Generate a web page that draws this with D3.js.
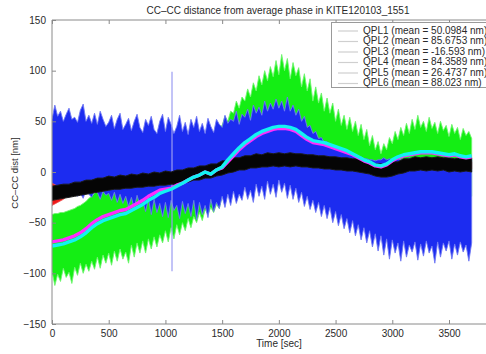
<!DOCTYPE html>
<html>
<head>
<meta charset="utf-8">
<script src="https://cdn.jsdelivr.net/npm/d3@7"></script>
<style>
  html, body { margin: 0; padding: 0; background: #fff; }
  svg { display: block; font-family: "Liberation Sans", Arial, Helvetica, sans-serif; }
</style>
</head>
<body>
<svg id="chart" width="486" height="354"></svg>
<script>
// Noise envelopes of QPL1/QPL2 are sampled every 25 s, the other traces every 50 s (0 ... 3700 s).
const fineStep = 25;
const coarseStep = 50;

const xTicks = [0, 500, 1000, 1500, 2000, 2500, 3000, 3500];
const yTicks = [-150, -100, -50, 0, 50, 100, 150];

const seriesNames = ["QPL1", "QPL2", "QPL3", "QPL4", "QPL5", "QPL6"];
const seriesMeans = ["50.0984", "85.6753", "-16.593", "84.3589", "26.4737", "88.023"];

// QPL1 (blue) envelope, one row per 100 s
const qpl1Hi = [
  52,66,55,60, 50,57,63,52, 54,49,61,67, 50,56,48,58, 47,60,52,45,
  49,56,43,52, 58,42,47,53, 41,50,57,44, 39,52,46,55, 42,38,50,57,
  40,54,47,38, 45,56,40,49, 37,52,44,55, 40,48,38,53, 45,39,52,47,
  44,56,48,52, 50,60,47,57, 54,62,51,66, 58,64,56,70, 60,68,62,72,
  63,70,60,74, 60,66,56,62, 50,55,44,46, 38,40,33,34, 29,30,27,27,
  24,25,22,22, 20,20,18,17, 15,15,13,13, 12,12,11,12, 12,14,12,13,
  12,14,13,12, 13,12,14,12, 12,13,12,14, 13,12,13,12, 12,13,12,13,
  12,13,12,12, 13,12,13,12, 12];
const qpl1Lo = [
  -20,-26,-22,-24, -21,-25,-20,-23, -19,-24,-21,-26, -18,-22,-25,-19, -20,-27,-19,-23,
  -21,-28,-20,-30, -22,-31,-24,-34, -25,-36,-23,-33, -28,-39,-26,-42, -27,-40,-31,-44,
  -30,-45,-28,-38, -33,-46,-29,-41, -31,-44,-28,-47, -30,-42,-33,-45, -27,-39,-30,-36,
  -24,-35,-22,-33, -19,-31,-22,-28, -15,-27,-18,-30, -12,-24,-14,-27, -9,-22,-12,-25,
  -8,-20,-11,-26, -13,-27,-16,-30, -20,-34,-24,-37, -28,-40,-30,-44, -33,-46,-35,-50,
  -39,-53,-42,-56, -46,-60,-48,-63, -52,-67,-55,-70, -58,-74,-61,-78, -63,-82,-66,-86,
  -67,-80,-70,-88, -68,-84,-72,-79, -69,-87,-71,-83, -68,-80,-73,-90, -69,-84,-70,-78,
  -68,-86,-71,-82, -69,-79,-72,-88, -70];
// single outlier sample in QPL1
const qpl1Glitch = { t: 1058, hi: 99, lo: -98 };

// QPL2 (green) envelope, one row per 100 s
const qpl2Hi = [
  -42,-41,-41,-40, -40,-39,-38,-37, -36,-34,-33,-31, -29,-26,-24,-21, -19,-18,-17,-16,
  -14,-13,-12,-11, -10,-10,-9,-8, -6,-5,-3,-2, 0,2,4,6, 7,9,11,12,
  13,14,15,17, 18,20,21,23, 24,26,27,29, 29,30,32,34, 32,36,40,44,
  46,55,50,60, 58,70,63,74, 70,82,74,88, 80,95,86,100, 90,104,94,110,
  96,116,100,112, 92,108,95,103, 84,97,80,92, 70,84,68,78, 60,73,58,68,
  50,62,46,56, 42,54,40,50, 36,47,32,42, 26,36,22,30, 18,28,22,34,
  28,40,32,44, 36,48,38,52, 42,56,44,50, 40,54,43,49, 38,50,41,46,
  35,47,38,44, 32,43,36,40, 33];
const qpl2Lo = [
  -98,-112,-101,-108, -95,-104,-99,-110, -94,-102,-90,-100, -91,-98,-88,-96, -84,-95,-82,-90,
  -80,-92,-78,-88, -76,-86,-79,-90, -72,-84,-70,-80, -68,-80,-66,-76, -64,-74,-62,-70,
  -58,-69,-55,-66, -52,-62,-50,-58, -46,-55,-44,-50, -40,-48,-37,-42, -35,-40,-32,-36,
  -24,-26,-20,-18, -14,-12,-8,-6, -4,-2,0,2, 2,4,4,5, 5,6,6,6,
  6,6,5,5, 4,3,2,0, -2,-4,-6,-8, -9,-10,-11,-12, -13,-14,-15,-16,
  -17,-18,-19,-20, -21,-22,-23,-24, -26,-27,-28,-30, -31,-32,-34,-35, -36,-35,-33,-31,
  -30,-29,-27,-26, -25,-24,-23,-23, -22,-22,-21,-21, -20,-20,-20,-21, -21,-22,-22,-23,
  -23,-22,-22,-23, -24,-25,-24,-24, -24];

// QPL3 (red) envelope, one row per 500 s
const qpl3Hi = [-11,-14,-15,-15,-13,-13,-12,-11,-10,-9,
  -8,-8,-7,-7,-6,-6,-5,-5,-4,-4,
  -3,-3,-2,-1,0,1,2,3,4,5,
  7,8,10,11,12,13,14,14,15,15,
  15,15,15,15,14,14,13,13,12,12,
  11,11,10,10,9,8,7,5,4,4,
  6,7,9,10,11,11,11,11,11,11,
  10,10,10,10,10];
const qpl3Lo = [-33,-30,-27,-22,-21,-20,-19,-18,-17,-16,
  -15,-15,-14,-14,-13,-13,-12,-12,-11,-11,
  -10,-10,-9,-8,-7,-6,-5,-4,-3,-2,
  0,1,3,4,5,6,7,7,8,8,
  8,8,8,8,7,7,6,6,5,5,
  4,4,3,3,2,1,0,-1,-2,-2,
  -1,0,2,3,4,4,4,4,4,4,
  3,3,3,3,3];

// QPL4 (cyan) smoothed trace, one row per 500 s
const qpl4 = [-73,-72,-71,-69,-67,-64,-60,-55,-51,-48,
  -46,-44,-42,-41,-38,-35,-32,-28,-25,-21,
  -19,-17,-14,-11,-8,-5,-3,0,-2,2,
  5,12,18,24,29,33,37,40,42,44,
  45,45,44,42,38,34,31,30,29,27,
  25,23,21,18,15,12,10,7,6,8,
  12,15,17,18,19,20,20,20,19,18,
  17,18,16,15,16];

// QPL5 (magenta) smoothed trace, one row per 500 s
const qpl5 = [-69,-68,-67,-65,-63,-60,-56,-51,-47,-44,
  -42,-40,-38,-37,-34,-31,-28,-24,-21,-18,
  -17,-16,-13,-11,-8,-5,-3,0,-2,2,
  4,10,16,22,27,31,35,38,40,42,
  43,43,42,40,36,32,29,28,27,25,
  23,21,19,17,14,11,9,6,5,7,
  11,14,16,17,18,19,19,19,18,17,
  16,17,15,14,15];

// QPL6 (black) envelope, one row per 500 s
const qpl6Hi = [-14,-13,-12,-12,-10,-10,-8,-8,-6,-6,
  -4,-5,-3,-4,-2,-3,-1,-2,0,-1,
  1,0,2,2,4,4,6,6,8,8,
  11,11,14,14,16,16,18,17,19,18,
  19,18,19,18,18,17,17,16,16,15,
  15,14,14,13,13,11,11,8,8,7,
  10,10,13,13,15,14,15,14,15,14,
  14,13,14,13,14];
const qpl6Lo = [-28,-27,-26,-25,-24,-23,-22,-21,-20,-19,
  -18,-17,-17,-16,-16,-15,-15,-14,-14,-13,
  -13,-12,-12,-10,-10,-8,-8,-6,-6,-4,
  -3,-1,0,2,2,4,4,5,5,6,
  5,6,5,6,5,5,4,4,3,3,
  2,2,1,1,0,-1,-2,-4,-5,-5,
  -4,-2,-1,1,1,2,1,2,1,2,
  0,1,0,1,0];

(function () {
const svg = d3.select("#chart");
const W = 486;
const plotLeft = 52, plotTop = 20, plotBottom = 324;
const pxPerSec = (449 - 52) / 3500;
const xMax = 3900;

const x = d3.scaleLinear().domain([0, xMax]).range([plotLeft, plotLeft + xMax * pxPerSec]);
const y = d3.scaleLinear().domain([-150, 150]).range([plotBottom, plotTop]);

const axisGrey = "#8a8a8a";
const textCol = "#2a2a2a";

svg.append("defs").append("clipPath").attr("id", "plotClip")
  .append("rect").attr("x", plotLeft).attr("y", plotTop)
  .attr("width", x(xMax) - plotLeft).attr("height", plotBottom - plotTop);

const plot = svg.append("g").attr("clip-path", "url(#plotClip)");

function band(hi, lo, step, fill, edge, edgeWidth) {
  const area = d3.area()
    .x((d, i) => x(i * step))
    .y0((d, i) => y(lo[i]))
    .y1((d, i) => y(hi[i]));
  plot.append("path").datum(hi).attr("d", area)
    .attr("fill", fill).attr("stroke", edge).attr("stroke-width", edgeWidth)
    .attr("stroke-linejoin", "miter");
}

function trace(vals, step, color, width) {
  const line = d3.line().x((d, i) => x(i * step)).y(d => y(d));
  plot.append("path").datum(vals).attr("d", line)
    .attr("fill", "none").attr("stroke", color).attr("stroke-width", width)
    .attr("stroke-linejoin", "round");
}

band(qpl2Hi, qpl2Lo, fineStep, "#14ee14", "#6ef56e", 0.9);
band(qpl1Hi, qpl1Lo, fineStep, "#1c2cf0", "#6f78f4", 0.9);
plot.append("line")
  .attr("x1", x(qpl1Glitch.t)).attr("x2", x(qpl1Glitch.t))
  .attr("y1", y(qpl1Glitch.hi)).attr("y2", y(qpl1Glitch.lo))
  .attr("stroke", "#9a9cf2").attr("stroke-width", 1.2);
band(qpl3Hi, qpl3Lo, coarseStep, "#f01a1a", "#f05050", 0.8);
band(qpl6Hi, qpl6Lo, coarseStep, "#050505", "#1a1a1a", 1);
trace(qpl5, coarseStep, "#ff2cff", 3.4);
trace(qpl4, coarseStep, "#12f2f2", 3.4);

// axes box (left, top, bottom; right side lies beyond the view)
const axes = svg.append("g");
axes.append("line").attr("x1", plotLeft).attr("x2", plotLeft).attr("y1", plotTop).attr("y2", plotBottom)
  .attr("stroke", axisGrey);
axes.append("line").attr("x1", plotLeft).attr("x2", W + 20).attr("y1", plotBottom).attr("y2", plotBottom)
  .attr("stroke", axisGrey);
axes.append("line").attr("x1", plotLeft).attr("x2", W + 20).attr("y1", plotTop).attr("y2", plotTop)
  .attr("stroke", axisGrey);

const xAxisB = d3.axisBottom(x).tickValues(xTicks).tickSize(-4).tickPadding(6)
  .tickFormat(d3.format("d"));
const gxb = svg.append("g").attr("transform", `translate(0,${plotBottom})`).call(xAxisB);
const xAxisT = d3.axisTop(x).tickValues(xTicks).tickSize(-4).tickFormat("");
const gxt = svg.append("g").attr("transform", `translate(0,${plotTop})`).call(xAxisT);
const yAxis = d3.axisLeft(y).tickValues(yTicks).tickSize(-4).tickPadding(6)
  .tickFormat(d => d < 0 ? "\u2212" + Math.abs(d) : String(d));
const gy = svg.append("g").attr("transform", `translate(${plotLeft},0)`).call(yAxis);

[gxb, gxt, gy].forEach(g => {
  g.select(".domain").remove();
  g.selectAll(".tick line").attr("stroke", axisGrey);
  g.selectAll(".tick text").attr("fill", textCol)
    .style("font-family", "'Liberation Sans', Arial, sans-serif").style("font-size", "10px");
});

// labels
svg.append("text").attr("x", 278).attr("y", 11).attr("text-anchor", "middle")
  .attr("dominant-baseline", "middle").attr("fill", textCol).style("font-size", "10px")
  .text("CC\u2013CC distance from average phase in KITE120103_1551");
svg.append("text").attr("x", 279).attr("y", 344).attr("text-anchor", "middle")
  .attr("dominant-baseline", "middle").attr("fill", textCol).style("font-size", "10px")
  .text("Time [sec]");
svg.append("text").attr("transform", "translate(15,173) rotate(-90)")
  .attr("text-anchor", "middle").attr("dominant-baseline", "middle")
  .attr("fill", textCol).style("font-size", "9.5px")
  .text("CC\u2013CC dist [nm]");

// legend
const leg = svg.append("g");
leg.append("rect").attr("x", 331.5).attr("y", 22.5).attr("width", 180).attr("height", 65)
  .attr("fill", "#fff").attr("stroke", "#9a9a9a").attr("stroke-width", 1);
seriesNames.forEach((name, i) => {
  const ly = 31 + i * 10.5;
  leg.append("line").attr("x1", 338).attr("x2", 358).attr("y1", ly).attr("y2", ly)
    .attr("stroke", "#cfcfcf").attr("stroke-width", 1.2);
  leg.append("text").attr("x", 363).attr("y", ly).attr("dominant-baseline", "middle")
    .attr("fill", textCol).style("font-size", "10px")
    .text(`${name} (mean = ${seriesMeans[i]} nm)`);
});
})();
</script>
</body>
</html>
